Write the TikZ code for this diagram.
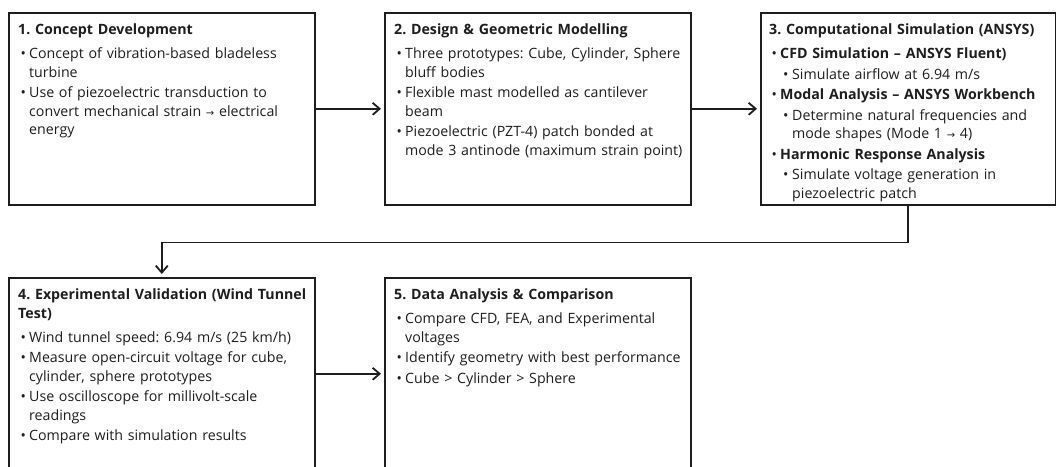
\documentclass[tikz,border=0pt]{standalone}
\usepackage{fontspec}
\setmainfont{Open Sans}
\newfontfamily\symfont{DejaVu Sans}
\usetikzlibrary{arrows.meta}
\newcommand{\rarr}{{\symfont\fontsize{10}{10}\selectfont →}}
\newcommand{\ttl}[1]{\noindent\textbf{#1}\par\vspace{3.5pt}}
\newcommand{\itm}[1]{\par\hangindent=11pt\hangafter=1\noindent\makebox[11pt][l]{\hspace{2.5pt}\textbullet}#1\par}
\newcommand{\sitm}[1]{\par\hangindent=23pt\hangafter=1\noindent\makebox[23pt][l]{\hspace{14pt}\textbullet}#1\par}
\newcommand{\boxfont}{\fontsize{14.2}{18.5}\selectfont\frenchspacing\parindent=0pt\parskip=2pt\hyphenpenalty=10000\tolerance=9999}
\definecolor{ink}{HTML}{1E1E1E}
\begin{document}
\begin{tikzpicture}[x=1pt,y=1pt,
  box/.style={draw=ink, line width=1.6pt, minimum width=306pt, minimum height=192pt, inner sep=0pt, anchor=north west},
  txt/.style={anchor=north west, inner sep=0pt, text width=296pt, text=ink, font=\boxfont},
  arr/.style={draw=ink, line width=1.8pt, -{Straight Barb[length=7pt,width=12pt]}, shorten >=3pt}]
\useasboundingbox (0,0) rectangle (1056,466);
\clip (0,0) rectangle (1056,466);
\node[box] (b1) at (8,454) {};
\node[box] (b2) at (384,454) {};
\node[box, minimum width=295pt] (b3) at (760,454) {};
\node[box] (b4) at (8,189) {};
\node[box] (b5) at (384,189) {};

\node[txt] (t1) at ([shift={(10,-12)}]b1.north west) {%
\ttl{1. Concept Development}
\itm{Concept of vibration-based bladeless\newline turbine}
\itm{Use of piezoelectric transduction to\newline convert mechanical strain \rarr{} electrical\newline energy}};

\node[txt] (t2) at ([shift={(10,-12)}]b2.north west) {%
\ttl{2. Design \& Geometric Modelling}
\itm{Three prototypes: Cube, Cylinder, Sphere\newline bluff bodies}
\itm{Flexible mast modelled as cantilever\newline beam}
\itm{Piezoelectric (PZT-4) patch bonded at\newline mode 3 antinode (maximum strain point)}};

\node[txt, text width=284pt] (t3) at ([shift={(9,-12)}]b3.north west) {%
\ttl{3. Computational Simulation (ANSYS)}
\itm{\textbf{CFD Simulation – ANSYS Fluent)}}
\sitm{Simulate airflow at 6.94 m/s}
\itm{\textbf{Modal Analysis – ANSYS Workbench}}
\sitm{Determine natural frequencies and\newline mode shapes (Mode 1 \rarr{} 4)}
\itm{\textbf{Harmonic Response Analysis}}
\sitm{Simulate voltage generation in\newline piezoelectric patch}};

\node[txt] (t4) at ([shift={(10,-12)}]b4.north west) {%
\ttl{4. Experimental Validation (Wind Tunnel\newline Test)}
\itm{Wind tunnel speed: 6.94 m/s (25 km/h)}
\itm{Measure open-circuit voltage for cube,\newline cylinder, sphere prototypes}
\itm{Use oscilloscope for millivolt-scale\newline readings}
\itm{Compare with simulation results}};

\node[txt] (t5) at ([shift={(10,-12)}]b5.north west) {%
\ttl{5. Data Analysis \& Comparison}
\itm{Compare CFD, FEA, and Experimental\newline voltages}
\itm{Identify geometry with best performance}
\itm{Cube > Cylinder > Sphere}};

\draw[arr] (b1.east) -- (b2.west);
\draw[arr] (b2.east) -- (b3.west);
\draw[arr] (b3.south) -- ++(0,-37) -| (b4.north);
\draw[arr] (b4.east) -- (b5.west);
\end{tikzpicture}
\end{document}
